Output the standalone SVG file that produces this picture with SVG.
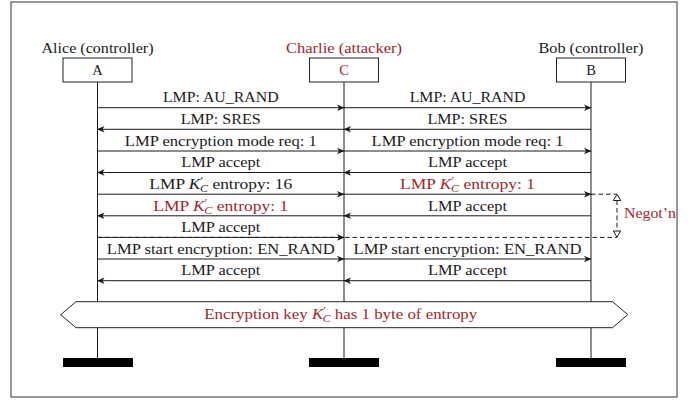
<svg xmlns="http://www.w3.org/2000/svg" width="694" height="401" viewBox="0 0 694 401">
<style>
text{font-family:"Liberation Serif","Times New Roman",serif;font-size:14.5px;fill:#1a1a1a;}
.red{fill:#a3262b;}
.mid{text-anchor:middle;}
.it{font-style:italic;}
.ln{stroke:#1a1a1a;stroke-width:1;fill:none;}
.dash{stroke:#1a1a1a;stroke-width:1;fill:none;stroke-dasharray:4.5 3;}
.box{fill:#fff;stroke:#222;stroke-width:1;}
.bar{fill:#000;}
</style>
<defs>
<marker id="ah" markerUnits="userSpaceOnUse" viewBox="-8 -4 9 8" refX="0" refY="0" markerWidth="9" markerHeight="8" orient="auto">
<path d="M0.5,0 L-7,-3.3 L-5,0 L-7,3.3 Z" fill="#1a1a1a"/>
</marker>
</defs>
<rect x="11" y="2" width="666" height="395" fill="none" stroke="#333" stroke-width="1"/>

<g id="lifelines">
<line class="ln" x1="97.5" y1="82" x2="97.5" y2="358"/>
<line class="ln" x1="344" y1="82" x2="344" y2="358"/>
<line class="ln" x1="591" y1="82" x2="591" y2="358"/>
</g>

<g id="alice">
<text class="mid" x="97.5" y="52.5" textLength="112" lengthAdjust="spacingAndGlyphs">Alice (controller)</text>
<rect class="box" x="63" y="58" width="69" height="24"/>
<text class="mid" x="97.5" y="74.5">A</text>
<rect class="bar" x="63" y="358" width="70" height="9"/>
</g>
<g id="charlie">
<text class="mid red" x="344" y="52.5" textLength="116" lengthAdjust="spacingAndGlyphs">Charlie (attacker)</text>
<rect class="box" x="309.5" y="58" width="69" height="24"/>
<text class="mid red" x="344" y="74.5">C</text>
<rect class="bar" x="309" y="358" width="70" height="9"/>
</g>
<g id="bob">
<text class="mid" x="591" y="52.5" textLength="105" lengthAdjust="spacingAndGlyphs">Bob (controller)</text>
<rect class="box" x="556.5" y="58" width="69" height="24"/>
<text class="mid" x="591" y="74.5">B</text>
<rect class="bar" x="556" y="358" width="70" height="9"/>
</g>

<g id="connectors">
<line class="ln" x1="97.5" y1="107.7" x2="344" y2="107.7" marker-end="url(#ah)"/>
<line class="ln" x1="344" y1="107.7" x2="591" y2="107.7" marker-end="url(#ah)"/>
<line class="ln" x1="344" y1="129.3" x2="97.5" y2="129.3" marker-end="url(#ah)"/>
<line class="ln" x1="591" y1="129.3" x2="344" y2="129.3" marker-end="url(#ah)"/>
<line class="ln" x1="97.5" y1="151" x2="344" y2="151" marker-end="url(#ah)"/>
<line class="ln" x1="344" y1="151" x2="591" y2="151" marker-end="url(#ah)"/>
<line class="ln" x1="344" y1="172.5" x2="97.5" y2="172.5" marker-end="url(#ah)"/>
<line class="ln" x1="591" y1="172.5" x2="344" y2="172.5" marker-end="url(#ah)"/>
<line class="ln" x1="97.5" y1="194.2" x2="344" y2="194.2" marker-end="url(#ah)"/>
<line class="ln" x1="344" y1="194.2" x2="591" y2="194.2" marker-end="url(#ah)"/>
<line class="ln" x1="344" y1="215.8" x2="97.5" y2="215.8" marker-end="url(#ah)"/>
<line class="ln" x1="591" y1="215.8" x2="344" y2="215.8" marker-end="url(#ah)"/>
<line class="ln" x1="97.5" y1="237.4" x2="344" y2="237.4" marker-end="url(#ah)"/>
<line class="ln" x1="97.5" y1="259" x2="344" y2="259" marker-end="url(#ah)"/>
<line class="ln" x1="344" y1="259" x2="591" y2="259" marker-end="url(#ah)"/>
<line class="ln" x1="344" y1="280.7" x2="97.5" y2="280.7" marker-end="url(#ah)"/>
<line class="ln" x1="591" y1="280.7" x2="344" y2="280.7" marker-end="url(#ah)"/>
<line class="dash" x1="591" y1="194.2" x2="617" y2="194.2"/>
<line class="dash" x1="97.5" y1="237.4" x2="617" y2="237.4"/>
<line class="dash" x1="617" y1="200.5" x2="617" y2="231"/>
<path d="M617,194.4 L620.7,200.5 L613.3,200.5 Z" fill="#fff" stroke="#1a1a1a" stroke-width="1"/>
<path d="M617,237.2 L620.7,231 L613.3,231 Z" fill="#fff" stroke="#1a1a1a" stroke-width="1"/>
</g>

<g id="labels">
<text class="mid" x="220.75" y="102.4" textLength="115.7" lengthAdjust="spacingAndGlyphs">LMP: AU_RAND</text>
<text class="mid" x="467.5" y="102.4" textLength="115.7" lengthAdjust="spacingAndGlyphs">LMP: AU_RAND</text>
<text class="mid" x="220.75" y="124" textLength="80" lengthAdjust="spacingAndGlyphs">LMP: SRES</text>
<text class="mid" x="467.5" y="124" textLength="80" lengthAdjust="spacingAndGlyphs">LMP: SRES</text>
<text class="mid" x="220.75" y="145.7" textLength="192" lengthAdjust="spacingAndGlyphs">LMP encryption mode req: 1</text>
<text class="mid" x="467.5" y="145.7" textLength="192" lengthAdjust="spacingAndGlyphs">LMP encryption mode req: 1</text>
<text class="mid" x="220.75" y="167.2" textLength="79" lengthAdjust="spacingAndGlyphs">LMP accept</text>
<text class="mid" x="467.5" y="167.2" textLength="79" lengthAdjust="spacingAndGlyphs">LMP accept</text>
<text class="mid" x="220.75" y="188.9" textLength="143" lengthAdjust="spacingAndGlyphs">LMP <tspan class="it">K</tspan><tspan font-size="10" dy="-5">′</tspan><tspan class="it" font-size="10" dx="-2.5" dy="8">C</tspan><tspan dy="-3"> entropy: 16</tspan></text>
<text class="mid red" x="467.5" y="188.9" textLength="135" lengthAdjust="spacingAndGlyphs">LMP <tspan class="it">K</tspan><tspan font-size="10" dy="-5">′</tspan><tspan class="it" font-size="10" dx="-2.5" dy="8">C</tspan><tspan dy="-3"> entropy: 1</tspan></text>
<text class="mid red" x="220.75" y="210.5" textLength="135" lengthAdjust="spacingAndGlyphs">LMP <tspan class="it">K</tspan><tspan font-size="10" dy="-5">′</tspan><tspan class="it" font-size="10" dx="-2.5" dy="8">C</tspan><tspan dy="-3"> entropy: 1</tspan></text>
<text class="mid" x="467.5" y="210.5" textLength="79" lengthAdjust="spacingAndGlyphs">LMP accept</text>
<text class="mid" x="220.75" y="232.1" textLength="79" lengthAdjust="spacingAndGlyphs">LMP accept</text>
<text class="mid" x="220.75" y="253.7" textLength="228" lengthAdjust="spacingAndGlyphs">LMP start encryption: EN_RAND</text>
<text class="mid" x="467.5" y="253.7" textLength="228" lengthAdjust="spacingAndGlyphs">LMP start encryption: EN_RAND</text>
<text class="mid" x="220.75" y="275.4" textLength="79" lengthAdjust="spacingAndGlyphs">LMP accept</text>
<text class="mid" x="467.5" y="275.4" textLength="79" lengthAdjust="spacingAndGlyphs">LMP accept</text>
<text class="red" x="624" y="218.3" textLength="52" lengthAdjust="spacingAndGlyphs">Negot’n</text>
</g>

<g id="banner">
<path class="box" d="M60.7,314.7 L76,301.7 L612.5,301.7 L627.8,314.7 L612.5,327.7 L76,327.7 Z"/>
<text class="mid red" x="340.7" y="319" textLength="273" lengthAdjust="spacingAndGlyphs">Encryption key <tspan class="it">K</tspan><tspan font-size="10" dy="-5">′</tspan><tspan class="it" font-size="10" dx="-2.5" dy="8">C</tspan><tspan dy="-3"> has 1 byte of entropy</tspan></text>
</g>
</svg>
